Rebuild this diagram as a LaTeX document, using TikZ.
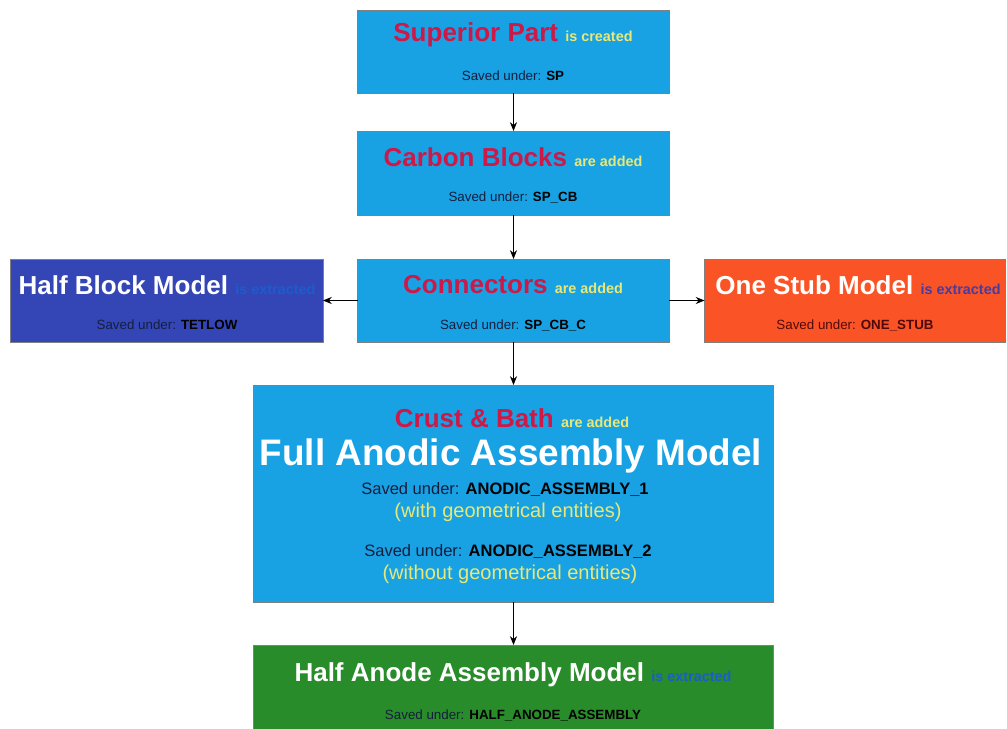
\documentclass[tikz,border=0pt]{standalone}
\usepackage{fontspec}
\setmainfont{Liberation Sans}
\usetikzlibrary{arrows.meta}

\definecolor{skyblue}{RGB}{24,162,228}
\definecolor{deepblue}{RGB}{52,70,182}
\definecolor{stuborange}{RGB}{250,84,38}
\definecolor{leafgreen}{RGB}{40,140,42}
\definecolor{titlered}{RGB}{205,24,72}
\definecolor{paleyellow}{RGB}{232,232,120}
\definecolor{navytext}{RGB}{22,30,62}
\definecolor{tagblue}{RGB}{28,92,205}
\definecolor{tagpurple}{RGB}{70,60,160}
\definecolor{darkred}{RGB}{80,10,10}

\newcommand{\smalltag}[2]{{\color{#1}\fontsize{8.2}{10}\selectfont\bfseries #2}}

\begin{document}
\begin{tikzpicture}[x=0.02cm, y=-0.02cm,
  >={Stealth[length=5pt,width=4pt]},
  box/.style={draw=black!50, line width=0.5pt, inner sep=0pt, outer sep=0pt},
  title/.style={font=\fontsize{14.8}{17}\selectfont\bfseries},
  saved/.style={font=\fontsize{7.6}{9}\selectfont, text=navytext}]
  \useasboundingbox (0,0) rectangle (1007,729);

  % boxes
  \node[box, fill=skyblue, minimum width=6.24cm, minimum height=1.66cm] (sp) at (513.5,51.5) {};
  \node[box, fill=skyblue, minimum width=6.24cm, minimum height=1.68cm] (cb) at (513.5,173) {};
  \node[box, fill=skyblue, minimum width=6.24cm, minimum height=1.66cm] (con) at (513.5,300.5) {};
  \node[box, fill=deepblue, minimum width=6.26cm, minimum height=1.66cm] (hb) at (166.5,300.5) {};
  \node[box, fill=stuborange, minimum width=6.02cm, minimum height=1.66cm] (os) at (855,300.5) {};
  \node[box, fill=skyblue, minimum width=10.4cm, minimum height=4.34cm] (fa) at (513.5,493.5) {};
  \node[box, fill=leafgreen, minimum width=10.4cm, minimum height=1.7cm] (ha) at (513.5,687.5) {};

  % texts
  \node[title] (sptxt) at (513,35) {\color{titlered}Superior Part \smalltag{paleyellow}{is created}};
  \node[saved] (spsav) at (513,76) {Saved under: \textbf{\color{black}SP}};

  \node[title] (cbtxt) at (513,157) {\color{titlered}Carbon Blocks \smalltag{paleyellow}{are added}};
  \node[saved] (cbsav) at (513,197) {Saved under: \textbf{\color{black}SP\_CB}};

  \node[title] (contxt) at (513,285) {\color{titlered}Connectors \smalltag{paleyellow}{are added}};
  \node[saved] (consav) at (513,325) {Saved under: \textbf{\color{black}SP\_CB\_C}};

  \node[title] (hbtxt) at (167,285) {\color{white}Half Block Model \smalltag{tagblue}{is extracted}};
  \node[saved] (hbsav) at (167,325) {Saved under: \textbf{\color{black}TETLOW}};

  \node[title] (ostxt) at (858,285) {\color{white}One Stub Model \smalltag{tagpurple}{is extracted}};
  \node[saved, text=darkred] (ossav) at (855,325) {Saved under: \textbf{ONE\_STUB}};

  \node[title] (fatxt) at (512,418) {\color{titlered}Crust \& Bath \smalltag{paleyellow}{are added}};
  \node[font=\fontsize{21}{24}\selectfont\bfseries, text=white] (faname) at (511,456) {Full Anodic Assembly Model};
  \node[saved, font=\fontsize{9.4}{11}\selectfont] (fasav1) at (505,490) {Saved under: \textbf{\color{black}ANODIC\_ASSEMBLY\_1}};
  \node[font=\fontsize{11.4}{13}\selectfont, text=paleyellow] (fawith) at (508,512) {(with geometrical entities)};
  \node[saved, font=\fontsize{9.4}{11}\selectfont] (fasav2) at (508,552) {Saved under: \textbf{\color{black}ANODIC\_ASSEMBLY\_2}};
  \node[font=\fontsize{11.4}{13}\selectfont, text=paleyellow] (fawithout) at (510,574) {(without geometrical entities)};

  \node[title] (hatxt) at (513,675) {\color{white}Half Anode Assembly Model \smalltag{tagblue}{is extracted}};
  \node[saved] (hasav) at (513,715) {Saved under: \textbf{\color{black}HALF\_ANODE\_ASSEMBLY}};

  % arrows
  \draw[->] (sp) -- (cb);
  \draw[->] (cb) -- (con);
  \draw[->] (con) -- (hb);
  \draw[->] (con) -- (os);
  \draw[->] (con) -- (fa);
  \draw[->] (fa) -- (ha);
\end{tikzpicture}
\end{document}
